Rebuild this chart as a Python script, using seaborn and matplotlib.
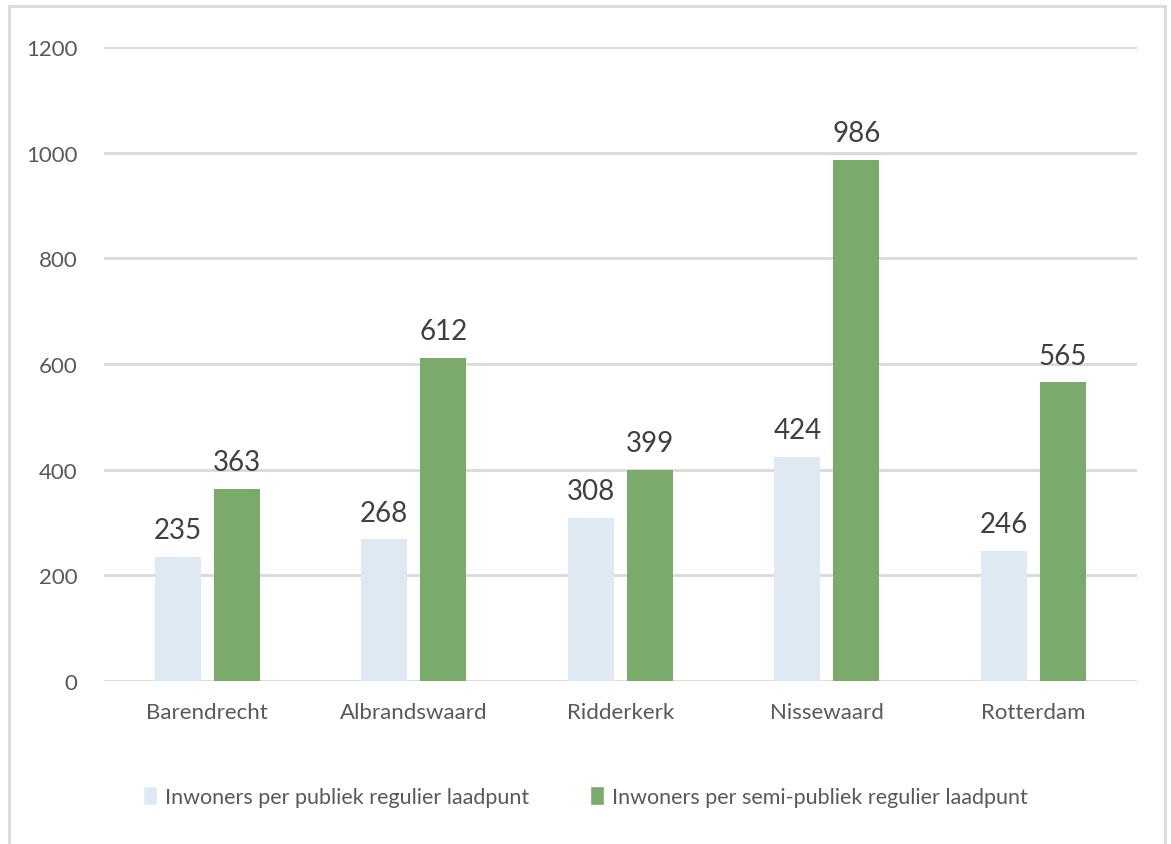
import numpy as np
import pandas as pd
import seaborn as sns
import matplotlib.pyplot as plt
from matplotlib.patches import Rectangle, Patch

gemeenten = ["Barendrecht", "Albrandswaard", "Ridderkerk", "Nissewaard", "Rotterdam"]
publiek = [235, 268, 308, 424, 246]
semi_publiek = [363, 612, 399, 986, 565]
series = ["Inwoners per publiek regulier laadpunt",
          "Inwoners per semi-publiek regulier laadpunt"]
colors = ["#dfe9f4", "#7aab6b"]

df = pd.DataFrame({
    "gemeente": gemeenten * 2,
    "waarde": publiek + semi_publiek,
    "serie": [series[0]] * 5 + [series[1]] * 5,
})

sns.set_style("white")
plt.rcParams["font.family"] = ["Lato", "DejaVu Sans"]
text_col = "#595959"

fig = plt.figure(figsize=(11.71, 8.45), dpi=100)
ax = fig.add_axes([0.0888, 0.1929, 0.882, 0.7503])

sns.barplot(data=df, x="gemeente", y="waarde", hue="serie", palette=colors,
            width=0.571, gap=0.22, ax=ax, legend=False, saturation=1,
            linewidth=0)

for c in ax.containers:
    ax.bar_label(c, padding=10, fontsize=20, color="#404040")

ax.set_ylim(0, 1200)
ax.set_yticks(range(0, 1201, 200))
ax.yaxis.grid(True, color="#d9d9d9", linewidth=2)
ax.set_axisbelow(True)
for s in ax.spines.values():
    s.set_visible(False)
ax.set_xlabel("")
ax.set_ylabel("")
ax.tick_params(axis="y", labelsize=16, colors=text_col, length=0, pad=19)
ax.tick_params(axis="x", labelsize=16, colors=text_col, length=0, pad=15)

handles = [Patch(facecolor=colors[i], label=series[i]) for i in range(2)]
fig.legend(handles=handles, loc="center", bbox_to_anchor=(0.5, 0.056), ncol=2,
           frameon=False, fontsize=15.5, labelcolor=text_col, handlelength=0.65,
           handleheight=1.0, handletextpad=0.35, columnspacing=2.85)

fig.patches.append(Rectangle((9 / 1171, -0.1), 1156 / 1171, 1.1 - 7 / 845,
                             transform=fig.transFigure, fill=False,
                             edgecolor="#d9d9d9", linewidth=2))

fig.savefig("out.png", dpi=100)
